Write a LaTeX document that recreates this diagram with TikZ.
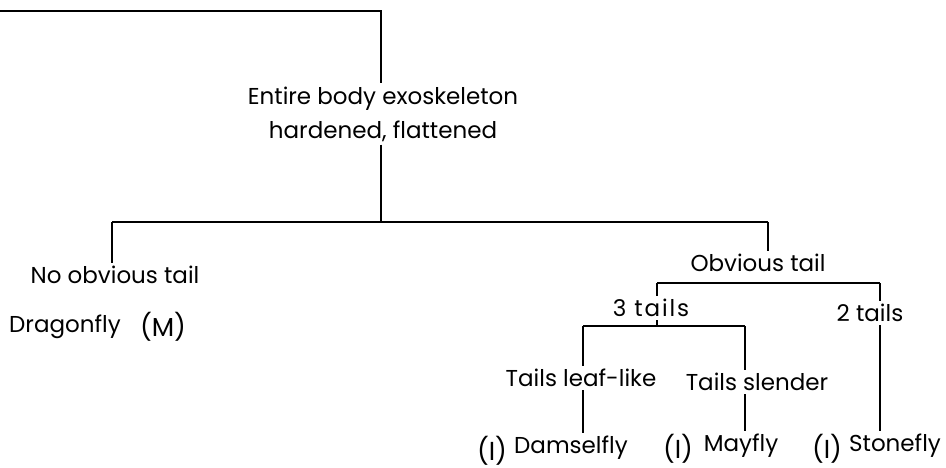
\documentclass[tikz,border=0pt]{standalone}
\usepackage{fontspec}
\setmainfont{Poppins}
\usepackage{tikz}

\begin{document}
\begin{tikzpicture}[x=1pt,y=-1pt,
	every node/.style={font=\fontsize{23}{27}\selectfont, inner sep=3pt},
	big/.style={font=\fontsize{26}{28}\selectfont},
	branch/.style={line width=2pt}]
	\useasboundingbox (0,0) rectangle (946,468);
	% the key entries
	\node (body) at (383,114) [align=center, font=\fontsize{23}{34}\selectfont] {Entire body exoskeleton\\hardened, flattened};
	\node (notail) at (115,275) {No obvious tail};
	\node (dragon) at (65,327) {Dragonfly};
	\node (m) at (163,327) [big] {(M)};
	\node (tail) at (758,263) {Obvious tail};
	\node (three) at (651,308) [font=\fontsize{23}{27}\selectfont\addfontfeatures{LetterSpace=8}] {3 tails};
	\node (two) at (870,313) {2 tails};
	\node (leaf) at (581,378) {Tails leaf-like};
	\node (slender) at (757,382) {Tails slender};
	\node (damsel) at (571,448) {Damselfly};
	\node (i1) at (492,451) [big] {(I)};
	\node (may) at (741,446) {Mayfly};
	\node (i2) at (678,449) [big] {(I)};
	\node (stone) at (895,446) {Stonefly};
	\node (i3) at (827,449) [big] {(I)};
	% branch points
	\coordinate (edge) at (0,11);
	\coordinate (top) at (381,11);
	\coordinate (split) at (381,222);
	\coordinate (lsplit) at (112,222);
	\coordinate (rsplit) at (768,222);
	\coordinate (l3) at (657,283);
	\coordinate (r3) at (880,283);
	\coordinate (t3) at (657,326);
	\coordinate (ll) at (583,326);
	\coordinate (rl) at (745,326);
	\draw[branch] (edge) -- (top) -- (top |- body.north);
	\draw[branch] (body.south -| split) -- (split);
	\draw[branch] (lsplit) -- (rsplit);
	\draw[branch] (lsplit) -- (lsplit |- notail.north);
	\draw[branch] (rsplit) -- (rsplit |- tail.north);
	\draw[branch] (l3) -- (r3);
	\draw[branch] (l3) -- (l3 |- three.north);
	\draw[branch] (r3) -- (r3 |- two.north);
	\draw[branch] (three.south -| t3) -- (t3);
	\draw[branch] (ll) -- (rl);
	\draw[branch] (ll) -- (ll |- leaf.north);
	\draw[branch] (rl) -- (rl |- slender.north);
	\draw[branch] (leaf.south -| ll) -- (ll |- damsel.north);
	\draw[branch] (slender.south -| rl) -- (rl |- may.north);
	\draw[branch] (two.south -| r3) -- (r3 |- stone.north);
\end{tikzpicture}
\end{document}
